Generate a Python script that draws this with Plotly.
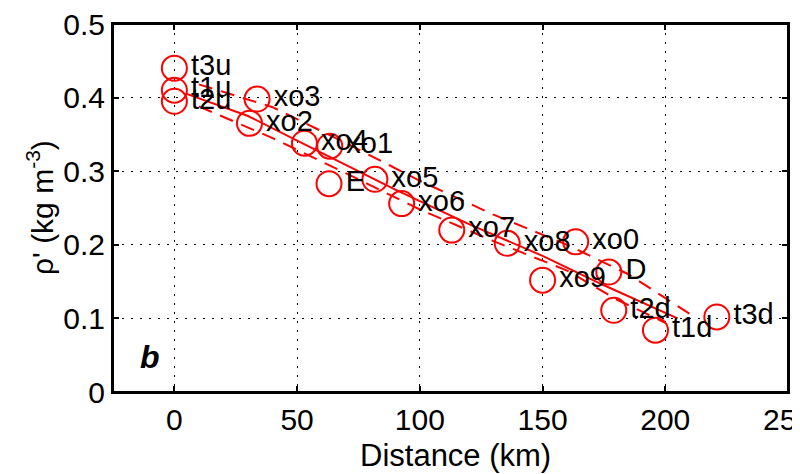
import plotly.graph_objects as go

# Station data (distance km, density anomaly kg m^-3)
labels = ["t3u", "t1u", "t2u", "xo3", "xo2", "xo4", "xo1", "E", "xo5", "xo6",
          "xo7", "xo8", "xo0", "xo9", "D", "t2d", "t1d", "t3d"]
dist = [0, 0, 0, 33.7, 30.6, 53, 63.3, 63, 81.7, 92.6,
        113, 135.6, 163.5, 150, 177, 179, 196, 221]
rho = [0.440, 0.410, 0.395, 0.398, 0.365, 0.338, 0.334, 0.283, 0.289, 0.256,
       0.220, 0.202, 0.204, 0.152, 0.163, 0.111, 0.084, 0.102]

# Fit line and bounds
fit_x = [5, 30, 60, 90, 120, 150, 175, 205]
fit_y = [0.405, 0.375, 0.325, 0.275, 0.228, 0.185, 0.145, 0.100]
up_x = [10, 40, 70, 100, 130, 160, 185, 210]
up_y = [0.418, 0.387, 0.338, 0.287, 0.241, 0.200, 0.160, 0.106]
lo_x = [10, 40, 70, 100, 130, 160, 180, 200]
lo_y = [0.388, 0.345, 0.297, 0.248, 0.205, 0.165, 0.126, 0.094]

xticks = [0, 50, 100, 150, 200, 250]
yticks = [0, 0.1, 0.2, 0.3, 0.4, 0.5]

FONT = "Liberation Sans, Arial, sans-serif"

fig = go.Figure()
fig.add_trace(go.Scatter(x=fit_x, y=fit_y, mode="lines",
                         line=dict(color="red", width=2), showlegend=False))
fig.add_trace(go.Scatter(x=up_x, y=up_y, mode="lines",
                         line=dict(color="red", width=2, dash="14px,9px"), showlegend=False))
fig.add_trace(go.Scatter(x=lo_x, y=lo_y, mode="lines",
                         line=dict(color="red", width=2, dash="14px,9px"), showlegend=False))
fig.add_trace(go.Scatter(x=dist, y=rho, mode="markers+text", text=labels,
                         textposition="middle right",
                         textfont=dict(family=FONT, size=29, color="black"),
                         marker=dict(symbol="circle-open", size=25, color="red",
                                     line=dict(width=2, color="red")),
                         showlegend=False, cliponaxis=False))

axis_common = dict(showline=True, linecolor="black", linewidth=2, mirror="ticks",
                   ticks="inside", ticklen=6, tickwidth=2, tickcolor="black",
                   showgrid=True, gridcolor="black", gridwidth=1, griddash="2px,7px",
                   zeroline=False, automargin=False, ticklabeloverflow="allow",
                   tickfont=dict(family=FONT, size=30, color="black"))

fig.update_xaxes(range=[-25, 250], tickvals=xticks, ticktext=[str(v) for v in xticks],
                 **axis_common)
fig.update_yaxes(range=[0, 0.5], tickvals=yticks,
                 ticktext=[("0" if v == 0 else f"{v:.1f}") for v in yticks],
                 **axis_common)

# plot frame
fig.add_shape(type="rect", xref="paper", yref="paper", x0=0, y0=0, x1=1, y1=1,
              line=dict(color="black", width=2), layer="above")

fig.add_annotation(xref="paper", yref="paper", x=0.5, y=0, xshift=5, yshift=-63,
                   text="Distance (km)", showarrow=False, xanchor="center", yanchor="middle",
                   font=dict(family=FONT, size=31, color="black"))
fig.add_annotation(xref="paper", yref="paper", x=0, y=0.5, xshift=-73,
                   text="ρ' (kg m<sup>-3</sup>)", showarrow=False, textangle=-90,
                   xanchor="center", yanchor="middle",
                   font=dict(family=FONT, size=30, color="black"))
fig.add_annotation(x=-10, y=0.047, text="<b><i>b</i></b>", showarrow=False,
                   font=dict(family=FONT, size=32, color="black"))

# the page body adds an 8px offset; size and margins compensate for it
fig.update_layout(width=792, height=466, margin=dict(l=105, r=12, t=16, b=82),
                  plot_bgcolor="white", paper_bgcolor="white")

fig.write_html("out.html")
